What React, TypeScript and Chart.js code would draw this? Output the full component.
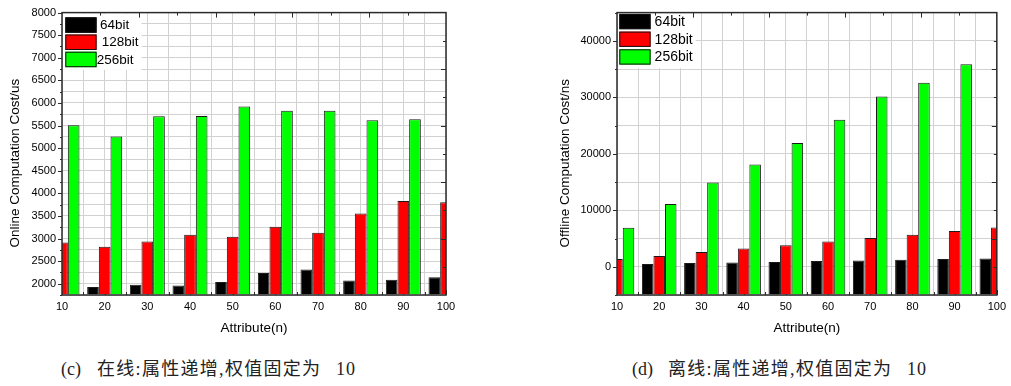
import React, { useEffect, useRef } from 'react';
import { Chart, registerables } from 'chart.js';

Chart.register(...registerables);

// ---------- data ----------
const attributes = [10, 20, 30, 40, 50, 60, 70, 80, 90, 100];
const xTickLabels = ['10', '20', '30', '40', '50', '60', '70', '80', '90', '100'];
const seriesLabels = ['64bit', '128bit', '256bit'];
const seriesColors = ['#000000', '#ff0000', '#00ff00'];

// (c) online cost (us)
const online64 = [1900, 1925, 1975, 1960, 2035, 2235, 2315, 2070, 2090, 2145];
const online128 = [2910, 2820, 2935, 3085, 3040, 3260, 3130, 3555, 3830, 3800];
const online256 = [5505, 5260, 5705, 5710, 5920, 5830, 5830, 5615, 5640, 5700];
const onlineYLabels = [2000, 2500, 3000, 3500, 4000, 4500, 5000, 5500, 6000, 6500, 7000, 7500, 8000];

// (d) offline cost (ns)
const offline64 = [350, 480, 650, 770, 830, 1010, 1130, 1240, 1360, 1480];
const offline128 = [1360, 1890, 2600, 3250, 3830, 4490, 5070, 5650, 6310, 6960];
const offline256 = [6890, 11130, 14910, 18090, 21910, 26040, 30160, 32580, 35870, 39000];
const offlineYLabels = [0, 10000, 20000, 30000, 40000];

// ---------- styles ----------
const FONT = '"Liberation Sans", Arial, sans-serif';
const GRID = '#d2d2d2';
const AXIS = '#2b2b2b';

const framePlugin = {
  id: 'frame',
  beforeDatasetsDraw(chart: any) {
    const { ctx, chartArea: a, scales } = chart;
    const xs = scales.xMinor;
    ctx.save();
    ctx.strokeStyle = AXIS;
    ctx.lineWidth = 1;
    xs.ticks.forEach((t: any) => {
      const px = Math.round(xs.getPixelForValue(t.value)) + 0.5;
      const major = t.value % 10 === 0;
      ctx.beginPath();
      ctx.moveTo(px, a.bottom);
      ctx.lineTo(px, a.bottom - (major ? 5 : 3));
      ctx.stroke();
    });
    ctx.restore();
  },
  afterDatasetsDraw(chart: any, _args: any, opts: any) {
    const { ctx, chartArea: a, scales } = chart;
    const w = a.right - a.left;
    const h = a.bottom - a.top;
    ctx.save();

    // legend
    const L = opts.legend;
    const x0 = a.left + L.dx;
    const y0 = a.top + L.dy;
    ctx.font = `${L.size}px ${FONT}`;
    const labels = chart.data.datasets.map((d: any) => d.label);
    const textRight = Math.max(
      ...labels.map((l: string, i: number) => x0 + L.w + L.gap + L.textDx[i] + ctx.measureText(l).width)
    );
    ctx.fillStyle = '#ffffff';
    ctx.fillRect(a.left + 1, a.top + 1, textRight + 3 - a.left - 1, y0 + 3 * L.pitch - a.top);
    chart.data.datasets.forEach((ds: any, i: number) => {
      const y = y0 + i * L.pitch;
      ctx.fillStyle = ds.backgroundColor;
      ctx.fillRect(x0, y, L.w, L.h);
      ctx.strokeStyle = '#111';
      ctx.lineWidth = 1;
      ctx.strokeRect(x0 + 0.5, y + 0.5, L.w - 1, L.h - 1);
      ctx.fillStyle = '#000';
      ctx.textBaseline = 'middle';
      ctx.textAlign = 'left';
      ctx.fillText(ds.label, x0 + L.w + L.gap + L.textDx[i], y + L.h / 2 + 0.5);
    });

    // box
    ctx.strokeStyle = AXIS;
    ctx.lineWidth = 1.5;
    ctx.strokeRect(a.left, a.top, w, h);

    // top & right inward ticks (10 divisions)
    ctx.lineWidth = 1;
    for (let i = 1; i < 10; i++) {
      const len = i % 2 === 0 ? 5 : 3;
      const x = Math.round(a.left + (i * w) / 10) + 0.5;
      ctx.beginPath();
      ctx.moveTo(x, a.top);
      ctx.lineTo(x, a.top + len);
      ctx.stroke();
      const y = Math.round(a.top + (i * h) / 10) + 0.5;
      ctx.beginPath();
      ctx.moveTo(a.right, y);
      ctx.lineTo(a.right - len, y);
      ctx.stroke();
    }

    // left outward ticks
    const ys = scales.y;
    ys.ticks.forEach((t: any) => {
      const py = Math.round(ys.getPixelForValue(t.value)) + 0.5;
      const major = opts.yLabels.includes(t.value);
      ctx.beginPath();
      ctx.moveTo(a.left, py);
      ctx.lineTo(a.left - (major ? 4 : 2), py);
      ctx.stroke();
    });
    ctx.restore();
  },
};

type Params = {
  values: number[][];
  yMin: number;
  yMax: number;
  yStep: number;
  yLabels: number[];
  yTitle: string;
  yAxisWidth: number;
  yTitlePad: number;
  padRight: number;
  legend: any;
};

function makeConfig(p: Params): any {
  return {
    type: 'bar',
    data: {
      datasets: p.values.map((vals, i) => ({
        label: seriesLabels[i],
        data: attributes.map((a, j) => ({ x: a, y: vals[j] })),
        backgroundColor: seriesColors[i],
        borderColor: '#1a1a1a',
        borderWidth: 1,
        base: p.yMin,
        clip: 0,
        categoryPercentage: 0.82,
        barPercentage: 1,
      })),
    },
    options: {
      responsive: false,
      animation: false,
      devicePixelRatio: 1,
      layout: { padding: { left: 0, top: 12, right: p.padRight, bottom: 0 } },
      plugins: {
        legend: { display: false },
        tooltip: { enabled: false },
        frame: { legend: p.legend, yLabels: p.yLabels },
      },
      scales: {
        x: {
          type: 'linear',
          position: 'bottom',
          offset: false,
          min: 10,
          max: 100,
          grid: { display: false, drawTicks: false, offset: false },
          border: { display: false },
          ticks: {
            stepSize: 10,
            autoSkip: false,
            maxRotation: 0,
            padding: 5,
            color: '#000',
            font: { family: FONT, size: 11 },
            callback: (v: number) => {
              const k = attributes.indexOf(v);
              return k >= 0 ? xTickLabels[k] : '';
            },
          },
          title: {
            display: true,
            text: 'Attribute(n)',
            color: '#000',
            font: { family: FONT, size: 13.5 },
            padding: { top: 0, bottom: 4 },
          },
          afterFit: (s: any) => {
            s.height = 45;
          },
        },
        xMinor: {
          type: 'linear',
          position: 'bottom',
          offset: false,
          min: 10,
          max: 100,
          grid: { color: GRID, lineWidth: 1, drawTicks: false, offset: false },
          border: { display: false },
          ticks: { display: false, stepSize: 5, autoSkip: false },
          afterFit: (s: any) => {
            s.height = 0;
          },
        },
        y: {
          type: 'linear',
          min: p.yMin,
          max: p.yMax,
          grid: { color: GRID, lineWidth: 1, drawTicks: false },
          border: { display: false },
          ticks: {
            stepSize: p.yStep,
            autoSkip: false,
            padding: 6,
            color: '#000',
            font: { family: FONT, size: 11 },
            callback: (v: number) => (p.yLabels.includes(v) ? String(v) : ''),
          },
          title: {
            display: true,
            text: p.yTitle,
            color: '#000',
            font: { family: FONT, size: 13.5 },
            padding: { top: p.yTitlePad, bottom: 0 },
          },
          afterFit: (s: any) => {
            s.width = p.yAxisWidth;
          },
        },
      },
    },
    plugins: [framePlugin],
  };
}

function ChartCanvas(props: { config: any; left: number; width: number; height: number }) {
  const ref = useRef<HTMLCanvasElement>(null);
  useEffect(() => {
    const chart = new Chart(ref.current as HTMLCanvasElement, props.config);
    return () => chart.destroy();
  }, []);
  return (
    <canvas
      ref={ref}
      width={props.width}
      height={props.height}
      style={{ position: 'absolute', left: props.left, top: 0, width: props.width, height: props.height }}
    />
  );
}

const captionFont = '"Liberation Serif", "Noto Sans CJK SC", serif';

function Caption(props: { left: number; tag: string; text: string; num: string }) {
  const base: React.CSSProperties = {
    position: 'absolute',
    top: 359,
    fontFamily: captionFont,
    fontSize: 18,
    lineHeight: '20px',
    color: '#222',
    whiteSpace: 'nowrap',
    letterSpacing: '1.3px',
  };
  return (
    <>
      <div style={{ ...base, left: props.left, letterSpacing: 0 }}>{props.tag}</div>
      <div style={{ ...base, left: props.left + 36 }}>{props.text}</div>
      <div style={{ ...base, left: props.left + 275, letterSpacing: '1px' }}>{props.num}</div>
    </>
  );
}

export default function App() {
  const onlineConfig = makeConfig({
    values: [online64, online128, online256],
    yMin: 1750,
    yMax: 8000,
    yStep: 250,
    yLabels: onlineYLabels,
    yTitle: 'Online Computation Cost/us     ',
    yAxisWidth: 62,
    yTitlePad: 7,
    padRight: 520 - 446,
    legend: { dx: 3.3, dy: 4.7, w: 31.3, h: 15.5, pitch: 17.2, gap: 0, textDx: [3.4, 5.1, 0.2], size: 13.5 },
  });
  const offlineConfig = makeConfig({
    values: [offline64, offline128, offline256],
    yMin: -5000,
    yMax: 45000,
    yStep: 5000,
    yLabels: offlineYLabels,
    yTitle: 'Offline Computation Cost/ns     ',
    yAxisWidth: 77,
    yTitlePad: 17,
    padRight: 10,
    legend: { dx: 2.3, dy: 1.3, w: 31.3, h: 15.3, pitch: 17.7, gap: 4, textDx: [0, 0, 0], size: 14 },
  });
  return (
    <div style={{ position: 'absolute', left: 0, top: 0, width: 1011, height: 386, background: '#fff', overflow: 'hidden' }}>
      <ChartCanvas config={onlineConfig} left={0} width={520} height={340} />
      <ChartCanvas config={offlineConfig} left={540} width={471} height={340} />
      <Caption left={61} tag="(c)" text="在线:属性递增,权值固定为" num="10" />
      <Caption left={632} tag="(d)" text="离线:属性递增,权值固定为" num="10" />
    </div>
  );
}
